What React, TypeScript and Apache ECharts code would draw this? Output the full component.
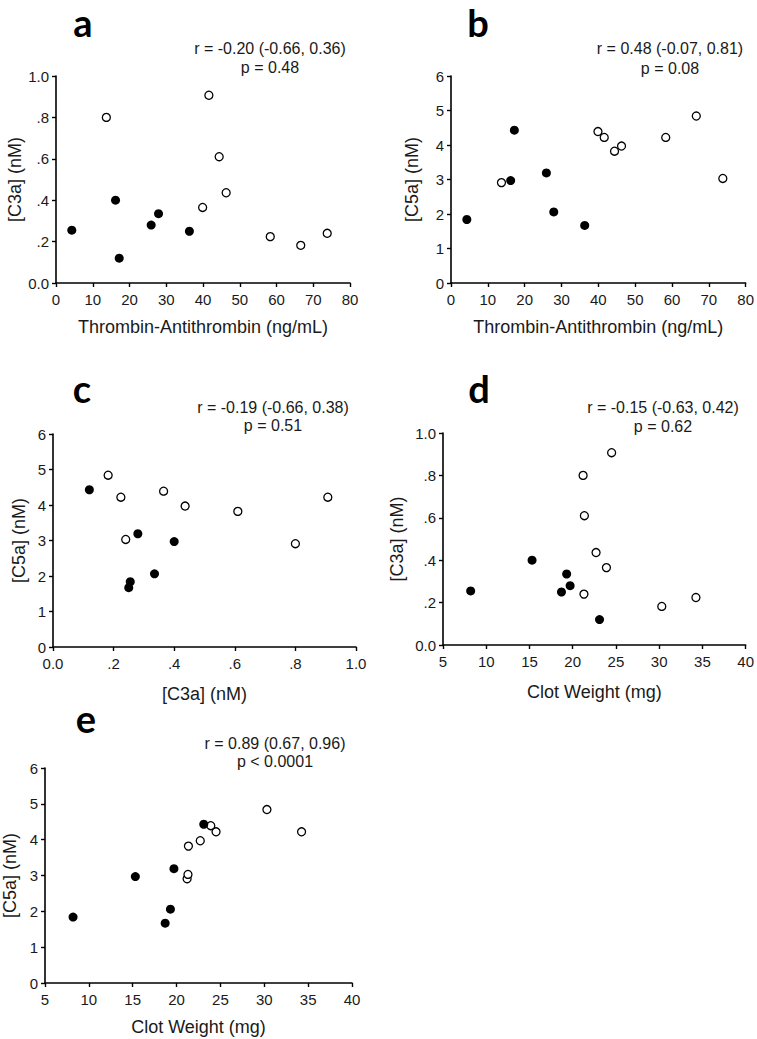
import React, { useEffect, useRef } from "react";
import * as echarts from "echarts";

// Observations — filled (solid) group
const filledTAT = [4.3, 16.2, 17.2, 25.9, 27.9, 36.3];
const filledC3a = [0.255, 0.4, 0.12, 0.28, 0.335, 0.25];
const filledC5a = [1.84, 2.97, 4.43, 3.19, 2.06, 1.67];
const filledClot = [8.2, 15.3, 23.1, 19.7, 19.3, 18.7];

// Observations — open group
const openTAT = [13.7, 39.9, 41.6, 44.4, 46.3, 58.3, 66.6, 73.8];
const openC3a = [0.8, 0.365, 0.907, 0.61, 0.436, 0.224, 0.182, 0.24];
const openC5a = [2.91, 4.39, 4.22, 3.82, 3.97, 4.22, 4.84, 3.03];
const openClot = [21.2, 23.9, 24.5, 21.35, 22.7, 34.25, 30.3, 21.3];

const panelLetters = ["a", "b", "c", "d", "e"];
const statLines = [
  ["r = -0.20 (-0.66, 0.36)", "p = 0.48"],
  ["r = 0.48 (-0.07, 0.81)", "p = 0.08"],
  ["r = -0.19 (-0.66, 0.38)", "p = 0.51"],
  ["r = -0.15 (-0.63, 0.42)", "p = 0.62"],
  ["r = 0.89 (0.67, 0.96)", "p < 0.0001"],
];
const xNames = [
  "Thrombin-Antithrombin (ng/mL)",
  "Thrombin-Antithrombin (ng/mL)",
  "[C3a] (nM)",
  "Clot Weight (mg)",
  "Clot Weight (mg)",
];
const yNames = ["[C3a] (nM)", "[C5a] (nM)", "[C5a] (nM)", "[C3a] (nM)", "[C5a] (nM)"];

const zip = (xs: number[], ys: number[]) => xs.map((x, i) => [x, ys[i]]);

const panelData = [
  { filled: zip(filledTAT, filledC3a), open: zip(openTAT, openC3a) },
  { filled: zip(filledTAT, filledC5a), open: zip(openTAT, openC5a) },
  { filled: zip(filledC3a, filledC5a), open: zip(openC3a, openC5a) },
  { filled: zip(filledClot, filledC3a), open: zip(openClot, openC3a) },
  { filled: zip(filledClot, filledC5a), open: zip(openClot, openC5a) },
];

// axis ranges
const xRanges = [
  { min: 0, max: 80, interval: 10 },
  { min: 0, max: 80, interval: 10 },
  { min: 0, max: 1, interval: 0.2 },
  { min: 5, max: 40, interval: 5 },
  { min: 5, max: 40, interval: 5 },
];
const yRanges = [
  { min: 0, max: 1, interval: 0.2 },
  { min: 0, max: 6, interval: 1 },
  { min: 0, max: 6, interval: 1 },
  { min: 0, max: 1, interval: 0.2 },
  { min: 0, max: 6, interval: 1 },
];

// layout
const grids = [
  { left: 56, top: 76, width: 294, height: 207 },
  { left: 451, top: 76, width: 296, height: 207 },
  { left: 53, top: 434, width: 303, height: 213 },
  { left: 443, top: 433, width: 303, height: 212 },
  { left: 45, top: 768, width: 307, height: 215 },
];
const letterPos = [
  [83, 22],
  [478, 22],
  [82, 388],
  [479, 388],
  [86, 718],
];
const statPos = [
  [270, 48, 67],
  [670, 48, 68],
  [273, 407, 425],
  [663, 407, 426],
  [275, 743, 761],
];
const yNameGaps = [31, 30, 25, 37, 26];
const xNameGaps = [35, 35, 38, 38, 35];

const TXT = "#1a1a1a";
const FONT = "Liberation Sans, Arial, sans-serif";

const fracFmt = (v: number) => {
  const s = v.toFixed(1);
  if (v > 0 && v < 1) return s.replace(/^0/, "");
  return s;
};

export default function App() {
  const ref = useRef<HTMLDivElement>(null);
  useEffect(() => {
    document.body.style.margin = "0";
    if (!ref.current) return;
    const chart = echarts.init(ref.current, undefined, { renderer: "svg" });

    const xAxis = xRanges.map((r, i) => ({
      type: "value",
      gridIndex: i,
      min: r.min,
      max: r.max,
      interval: r.interval,
      name: xNames[i],
      nameLocation: "middle",
      nameGap: xNameGaps[i],
      nameTextStyle: { color: TXT, fontSize: 18, fontFamily: FONT },
      axisLine: { show: true, onZero: false, lineStyle: { color: "#000", width: 1.6 } },
      axisTick: { show: true, inside: false, length: 4, lineStyle: { color: "#000", width: 1.4 } },
      axisLabel: {
        color: TXT,
        fontSize: 15,
        fontFamily: FONT,
        margin: 9,
        formatter: i === 2 ? fracFmt : undefined,
      },
      splitLine: { show: false },
    }));

    const yAxis = yRanges.map((r, i) => ({
      type: "value",
      gridIndex: i,
      min: r.min,
      max: r.max,
      interval: r.interval,
      name: yNames[i],
      nameLocation: "middle",
      nameGap: yNameGaps[i],
      nameTextStyle: { color: TXT, fontSize: 18, fontFamily: FONT },
      axisLine: { show: true, onZero: false, lineStyle: { color: "#000", width: 1.6 } },
      axisTick: { show: true, inside: false, length: 4, lineStyle: { color: "#000", width: 1.4 } },
      axisLabel: {
        color: TXT,
        fontSize: 15,
        fontFamily: FONT,
        margin: 7,
        formatter: r.max === 1 ? fracFmt : undefined,
      },
      splitLine: { show: false },
    }));

    const series: any[] = [];
    panelData.forEach((p, i) => {
      series.push({
        type: "scatter",
        xAxisIndex: i,
        yAxisIndex: i,
        data: p.open,
        symbol: "circle",
        symbolSize: 8,
        itemStyle: { color: "#fff", borderColor: "#000", borderWidth: 1.3, opacity: 1 },
        emphasis: { disabled: true },
        z: 3,
      });
      series.push({
        type: "scatter",
        xAxisIndex: i,
        yAxisIndex: i,
        data: p.filled,
        symbol: "circle",
        symbolSize: 9,
        itemStyle: { color: "#000", opacity: 1 },
        emphasis: { disabled: true },
        z: 4,
      });
    });

    const graphic: any[] = [];
    panelLetters.forEach((l, i) => {
      graphic.push({
        type: "text",
        x: letterPos[i][0],
        y: letterPos[i][1],
        style: {
          text: l,
          fill: "#000",
          font: "bold 38px Lato, sans-serif",
          lineHeight: 38,
          textAlign: "center",
          textVerticalAlign: "middle",
        },
      });
      graphic.push({
        type: "text",
        x: statPos[i][0],
        y: statPos[i][1],
        style: {
          text: statLines[i][0],
          fill: TXT,
          font: "16px " + FONT,
          textAlign: "center",
          textVerticalAlign: "middle",
        },
      });
      graphic.push({
        type: "text",
        x: statPos[i][0],
        y: statPos[i][2],
        style: {
          text: statLines[i][1],
          fill: TXT,
          font: "16px " + FONT,
          textAlign: "center",
          textVerticalAlign: "middle",
        },
      });
    });

    chart.setOption({
      animation: false,
      backgroundColor: "#fff",
      grid: grids.map((g) => ({ ...g, containLabel: false })),
      xAxis,
      yAxis,
      series,
      graphic,
    });
    return () => chart.dispose();
  }, []);
  return <div ref={ref} style={{ width: 757, height: 1039 }} />;
}
